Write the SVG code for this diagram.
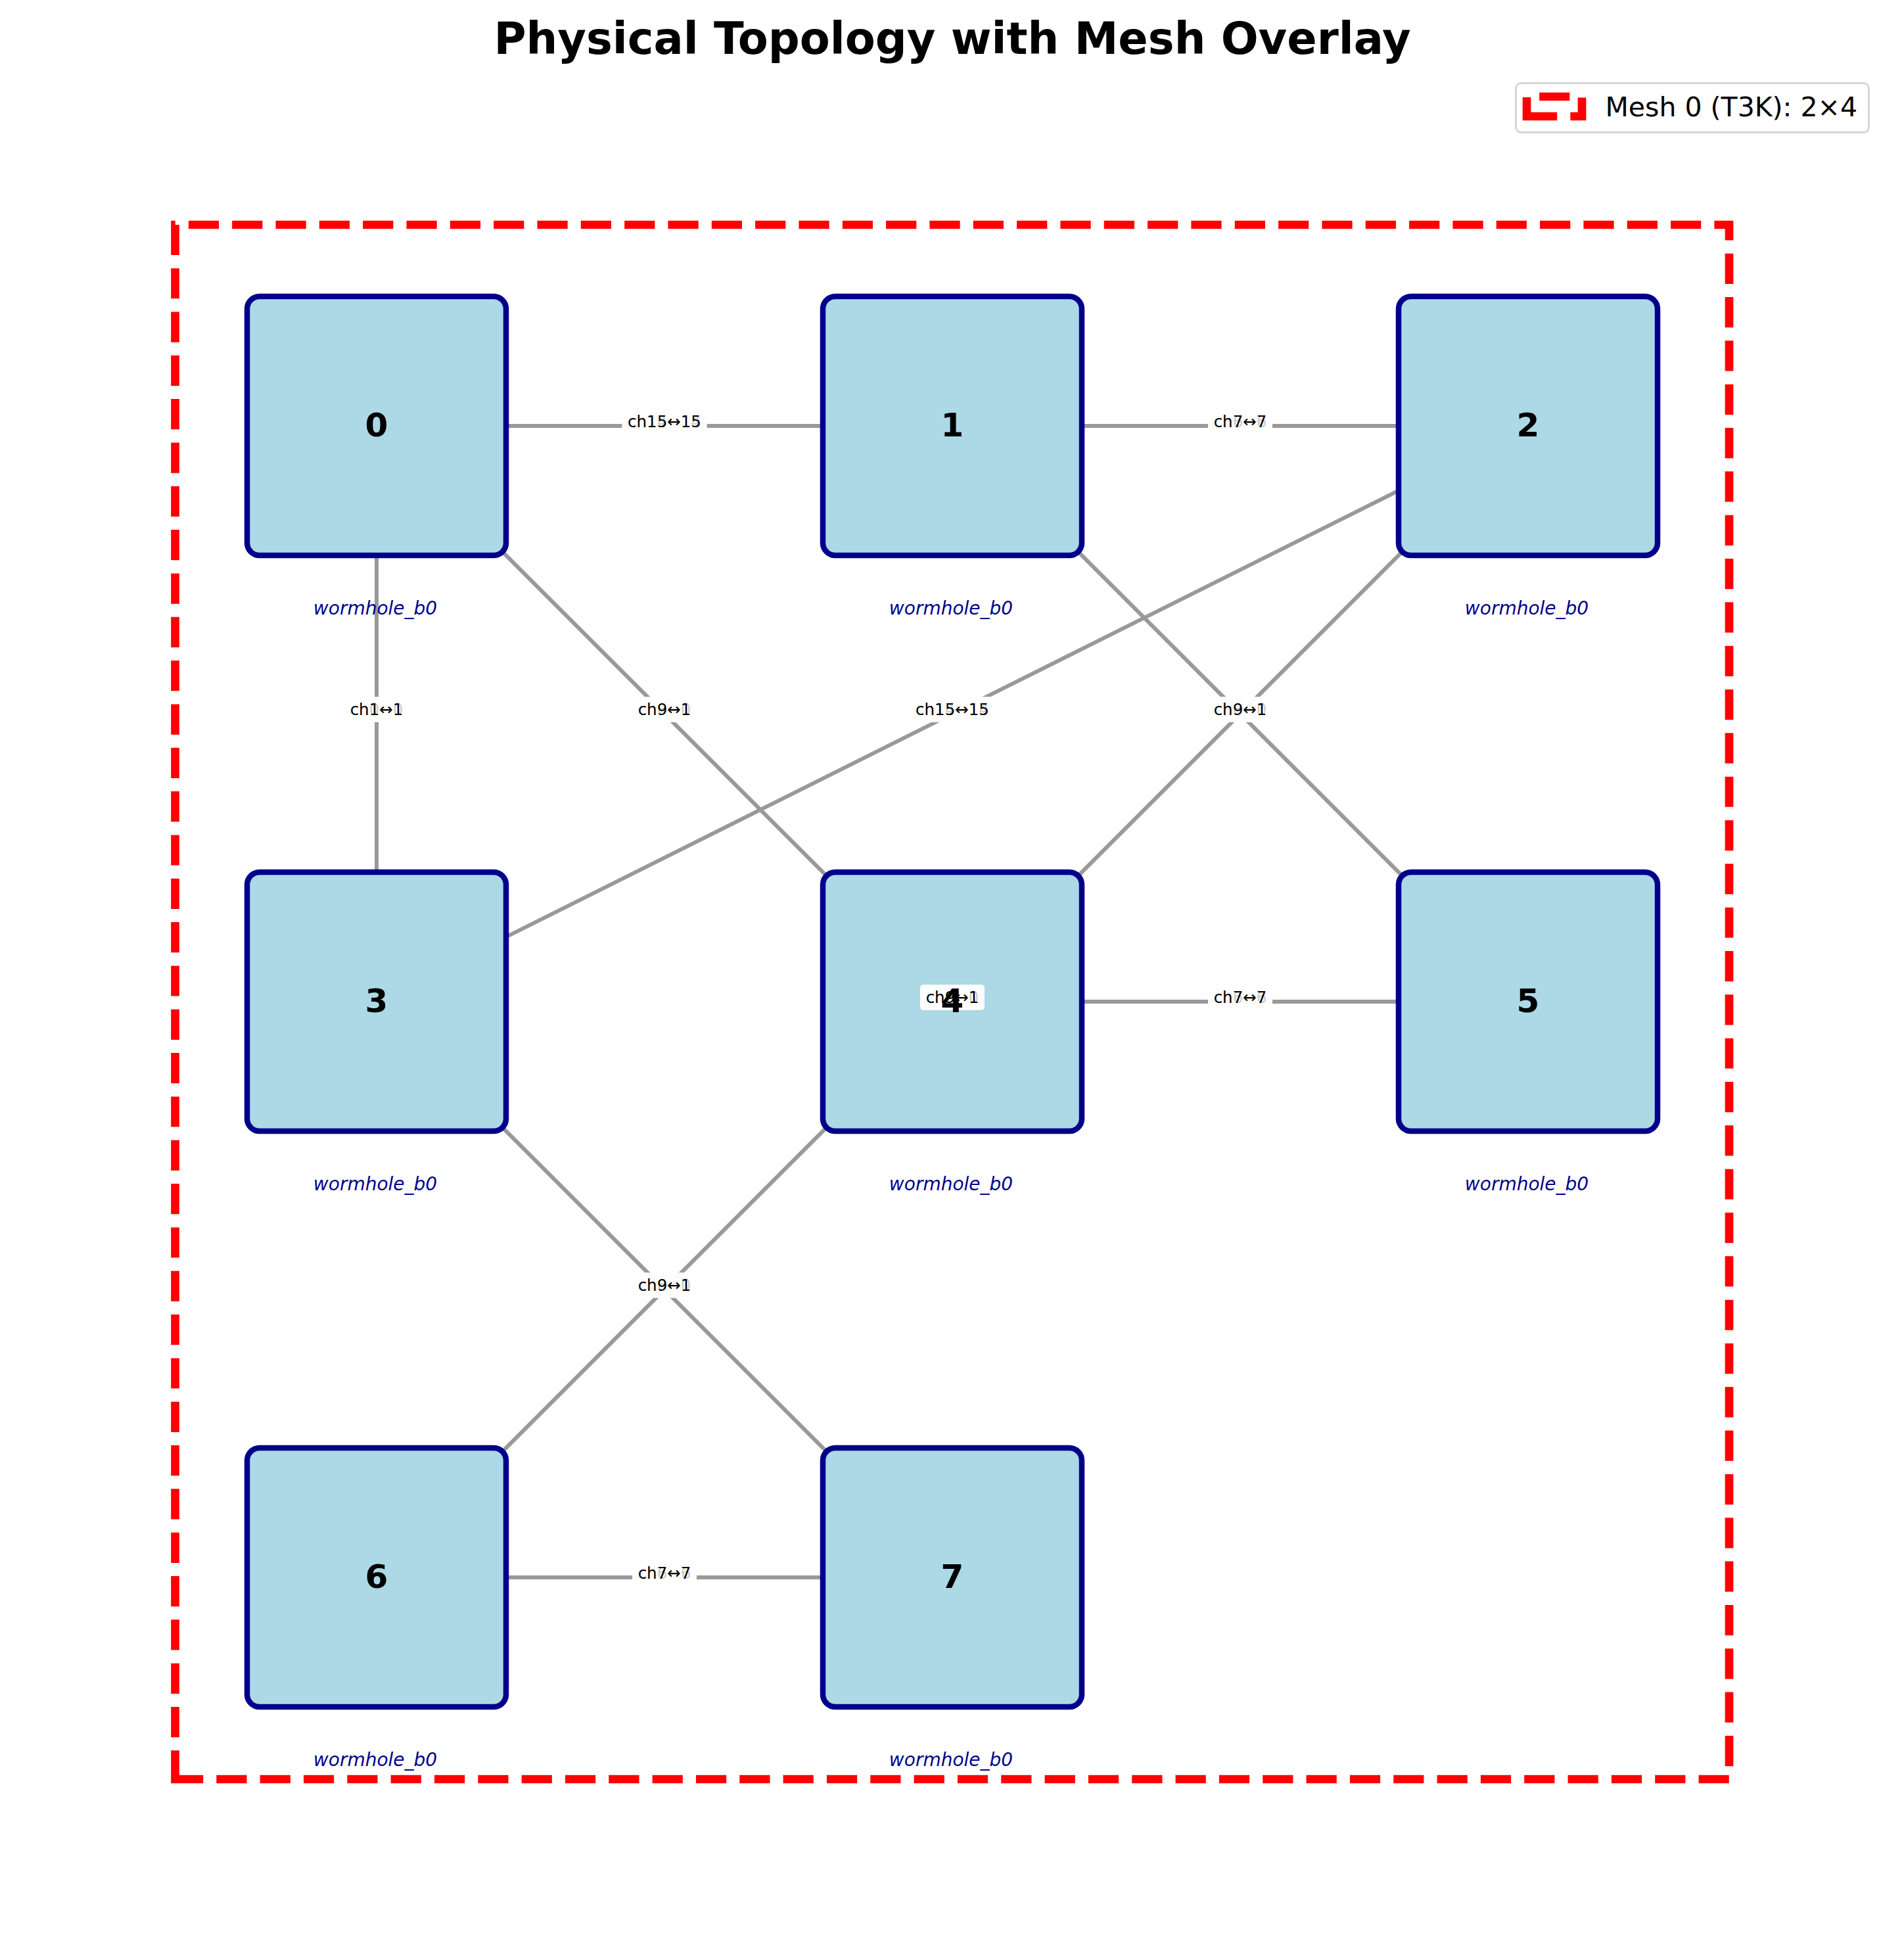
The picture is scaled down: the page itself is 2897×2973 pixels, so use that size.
<svg xmlns="http://www.w3.org/2000/svg" width="2897" height="2973" viewBox="0 0 2897 2973">
<style>
text{font-family:"DejaVu Sans","Liberation Sans",sans-serif}
.title{font-weight:bold;font-size:67px;text-anchor:middle;fill:#000}
.num{font-weight:bold;font-size:50px;text-anchor:middle;fill:#000}
.hw{font-style:italic;font-size:28px;fill:#00008B;text-anchor:middle}
.lbl{font-size:24.5px;text-anchor:middle;fill:#000}
rect.box{fill:#fff;fill-opacity:0.8;stroke:none}
.node>rect{fill:#ADD8E6;stroke:#00008B;stroke-width:8.5}
.link{stroke:#999;stroke-width:6;fill:none}
.mesh{fill:none;stroke:#FF0000;stroke-width:12.7;stroke-dasharray:46.2 20.13}
.legend-frame{fill:#fff;stroke:#d6d6d6;stroke-width:3}
.legend-text{font-size:41px;fill:#000}
</style>
<rect x="0" y="0" width="2897" height="2973" fill="#fff"/>
<text class="title" x="1449" y="82">Physical Topology with Mesh Overlay</text>

<g id="mesh-overlay">
<path class="mesh" d="M266.5,2707 V342 H2631 V2707 Z" stroke-dashoffset="2.55"/>
</g>

<g id="legend">
<rect class="legend-frame" x="2306.5" y="126.5" width="537" height="75" rx="8"/>
<path class="mesh" d="M2323,177 H2407 V147 H2323 Z"/>
<text class="legend-text" x="2442.5" y="177">Mesh 0 (T3K): 2×4</text>
</g>

<g id="connectors">
<line class="link" id="link-0-1" x1="573" y1="648" x2="1449" y2="648"/>
<line class="link" id="link-1-2" x1="1449" y1="648" x2="2325" y2="648"/>
<line class="link" id="link-0-3" x1="573" y1="648" x2="573" y2="1524"/>
<line class="link" id="link-0-4" x1="573" y1="648" x2="1449" y2="1524"/>
<line class="link" id="link-2-3" x1="2325" y1="648" x2="573" y2="1524"/>
<line class="link" id="link-1-5" x1="1449" y1="648" x2="2325" y2="1524"/>
<line class="link" id="link-2-6" x1="2325" y1="648" x2="573" y2="2400"/>
<line class="link" id="link-4-5" x1="1449" y1="1524" x2="2325" y2="1524"/>
<line class="link" id="link-3-7" x1="573" y1="1524" x2="1449" y2="2400"/>
<line class="link" id="link-6-7" x1="573" y1="2400" x2="1449" y2="2400"/>
</g>

<g id="nodes">
<g id="node-0" class="node"><rect x="376" y="451" width="394" height="394" rx="19"/><text class="num" x="573" y="664">0</text><text class="hw" x="571" y="935">wormhole_b0</text></g>
<g id="node-1" class="node"><rect x="1252" y="451" width="394" height="394" rx="19"/><text class="num" x="1449" y="664">1</text><text class="hw" x="1447" y="935">wormhole_b0</text></g>
<g id="node-2" class="node"><rect x="2128" y="451" width="394" height="394" rx="19"/><text class="num" x="2325" y="664">2</text><text class="hw" x="2323" y="935">wormhole_b0</text></g>
<g id="node-3" class="node"><rect x="376" y="1327" width="394" height="394" rx="19"/><text class="num" x="573" y="1540">3</text><text class="hw" x="571" y="1811">wormhole_b0</text></g>
<g id="node-4" class="node"><rect x="1252" y="1327" width="394" height="394" rx="19"/>
<g class="link-label" id="label-2-6"><rect class="box" x="1400" y="1498.25" width="98" height="38.5" rx="5"/><text class="lbl" x="1449" y="1526">ch8↔0</text><rect class="box" x="1400" y="1498.25" width="98" height="38.5" rx="5"/><text class="lbl" x="1449" y="1526">ch9↔1</text></g>
<text class="num" x="1449" y="1540">4</text><text class="hw" x="1447" y="1811">wormhole_b0</text></g>
<g id="node-5" class="node"><rect x="2128" y="1327" width="394" height="394" rx="19"/><text class="num" x="2325" y="1540">5</text><text class="hw" x="2323" y="1811">wormhole_b0</text></g>
<g id="node-6" class="node"><rect x="376" y="2203" width="394" height="394" rx="19"/><text class="num" x="573" y="2416">6</text><text class="hw" x="571" y="2687">wormhole_b0</text></g>
<g id="node-7" class="node"><rect x="1252" y="2203" width="394" height="394" rx="19"/><text class="num" x="1449" y="2416">7</text><text class="hw" x="1447" y="2687">wormhole_b0</text></g>
</g>

<g id="link-labels">
<g id="label-0-1"><rect class="box" x="946.5" y="622.25" width="129" height="38.5" rx="5"/><text class="lbl" x="1011" y="650">ch14↔14</text><rect class="box" x="946.5" y="622.25" width="129" height="38.5" rx="5"/><text class="lbl" x="1011" y="650">ch15↔15</text></g>
<g id="label-1-2"><rect class="box" x="1838" y="622.25" width="98" height="38.5" rx="5"/><text class="lbl" x="1887" y="650">ch6↔6</text><rect class="box" x="1838" y="622.25" width="98" height="38.5" rx="5"/><text class="lbl" x="1887" y="650">ch7↔7</text></g>
<g id="label-0-3"><rect class="box" x="524" y="1060.25" width="98" height="38.5" rx="5"/><text class="lbl" x="573" y="1088">ch0↔0</text><rect class="box" x="524" y="1060.25" width="98" height="38.5" rx="5"/><text class="lbl" x="573" y="1088">ch1↔1</text></g>
<g id="label-0-4"><rect class="box" x="962" y="1060.25" width="98" height="38.5" rx="5"/><text class="lbl" x="1011" y="1088">ch8↔0</text><rect class="box" x="962" y="1060.25" width="98" height="38.5" rx="5"/><text class="lbl" x="1011" y="1088">ch9↔1</text></g>
<g id="label-2-3"><rect class="box" x="1384.5" y="1060.25" width="129" height="38.5" rx="5"/><text class="lbl" x="1449" y="1088">ch14↔14</text><rect class="box" x="1384.5" y="1060.25" width="129" height="38.5" rx="5"/><text class="lbl" x="1449" y="1088">ch15↔15</text></g>
<g id="label-1-5"><rect class="box" x="1838" y="1060.25" width="98" height="38.5" rx="5"/><text class="lbl" x="1887" y="1088">ch8↔0</text><rect class="box" x="1838" y="1060.25" width="98" height="38.5" rx="5"/><text class="lbl" x="1887" y="1088">ch9↔1</text></g>
<g id="label-4-5"><rect class="box" x="1838" y="1498.25" width="98" height="38.5" rx="5"/><text class="lbl" x="1887" y="1526">ch6↔6</text><rect class="box" x="1838" y="1498.25" width="98" height="38.5" rx="5"/><text class="lbl" x="1887" y="1526">ch7↔7</text></g>
<g id="label-3-7"><rect class="box" x="962" y="1936.25" width="98" height="38.5" rx="5"/><text class="lbl" x="1011" y="1964">ch8↔0</text><rect class="box" x="962" y="1936.25" width="98" height="38.5" rx="5"/><text class="lbl" x="1011" y="1964">ch9↔1</text></g>
<g id="label-6-7"><rect class="box" x="962" y="2374.25" width="98" height="38.5" rx="5"/><text class="lbl" x="1011" y="2402">ch6↔6</text><rect class="box" x="962" y="2374.25" width="98" height="38.5" rx="5"/><text class="lbl" x="1011" y="2402">ch7↔7</text></g>
</g>
</svg>
